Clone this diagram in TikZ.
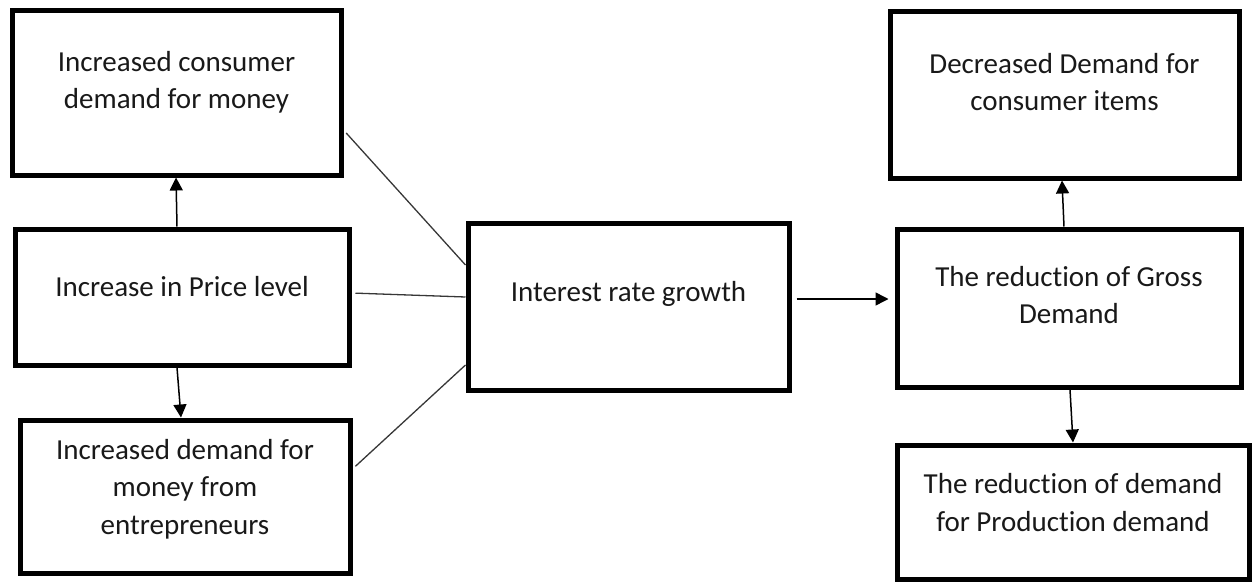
\documentclass[tikz,border=0pt]{standalone}
\usepackage{fontspec}
\setmainfont{Carlito}[Ligatures=NoCommon]
\usetikzlibrary{arrows.meta,positioning,calc}
\definecolor{Ink}{RGB}{25,25,25}
\definecolor{LinkGray}{RGB}{55,55,55}
\newcommand{\lowpad}[1]{\rule[-#1]{0pt}{#1}}
\tikzset{
  factor/.style={draw=black,line width=5pt,fill=white,inner sep=0pt,align=center,text=Ink,font=\fontsize{29}{37.5}\selectfont},
  link/.style={draw=LinkGray,line width=1.3pt},
  cause/.style={-{Triangle[length=13pt,width=13pt]},draw=black,line width=1.5pt}
}

\begin{document}
\begin{tikzpicture}[x=1pt,y=-1pt]
\useasboundingbox (0,0) rectangle (1254,586);
\node[factor,minimum width=329pt,minimum height=164pt](consumer) at (176.5,93){Increased consumer\\demand for money\lowpad{26pt}};
\node[factor,minimum width=334pt,minimum height=136pt](price) at (182,297){Increase in Price level\lowpad{22pt}};
\node[factor,minimum width=330pt,minimum height=153pt](entre) at (185,496.5){Increased demand for\\money from\\entrepreneurs\lowpad{20pt}};
\node[factor,minimum width=321pt,minimum height=167pt](interest) at (628.5,306.5){Interest rate growth\lowpad{30pt}};
\node[factor,minimum width=344pt,minimum height=158pt](gross) at (1069,308){The reduction of Gross\\Demand\lowpad{26pt}};
\node[factor,minimum width=349pt,minimum height=166pt](items) at (1064.5,95){Decreased Demand for\\consumer items\lowpad{26pt}};
\node[factor,minimum width=352pt,minimum height=134pt](prod) at (1073,512){The reduction of demand\\for Production demand\lowpad{19pt}};
% causes on the left
\draw[cause]([xshift=-5pt]price.north)--([xshift=-0.5pt]consumer.south);
\draw[cause]([xshift=-5pt]price.south)--([xshift=-4pt]entre.north);
\draw[link,shorten <=4pt]([yshift=-37pt]consumer.east)--([yshift=41.5pt]interest.west);
\draw[link,shorten <=4pt]([yshift=4pt]price.east)--([yshift=9.5pt]interest.west);
\draw[link,shorten <=4pt]([yshift=27.5pt]entre.east)--([yshift=-58.5pt]interest.west);
% effects on the right
\draw[cause,shorten <=5pt,shorten >=6pt]([yshift=7.5pt]interest.east)--([yshift=9pt]gross.west);
\draw[cause]([xshift=-5pt]gross.north)--([xshift=-2.5pt]items.south);
\draw[cause]([xshift=1pt]gross.south)--(prod.north);
\end{tikzpicture}
\end{document}
